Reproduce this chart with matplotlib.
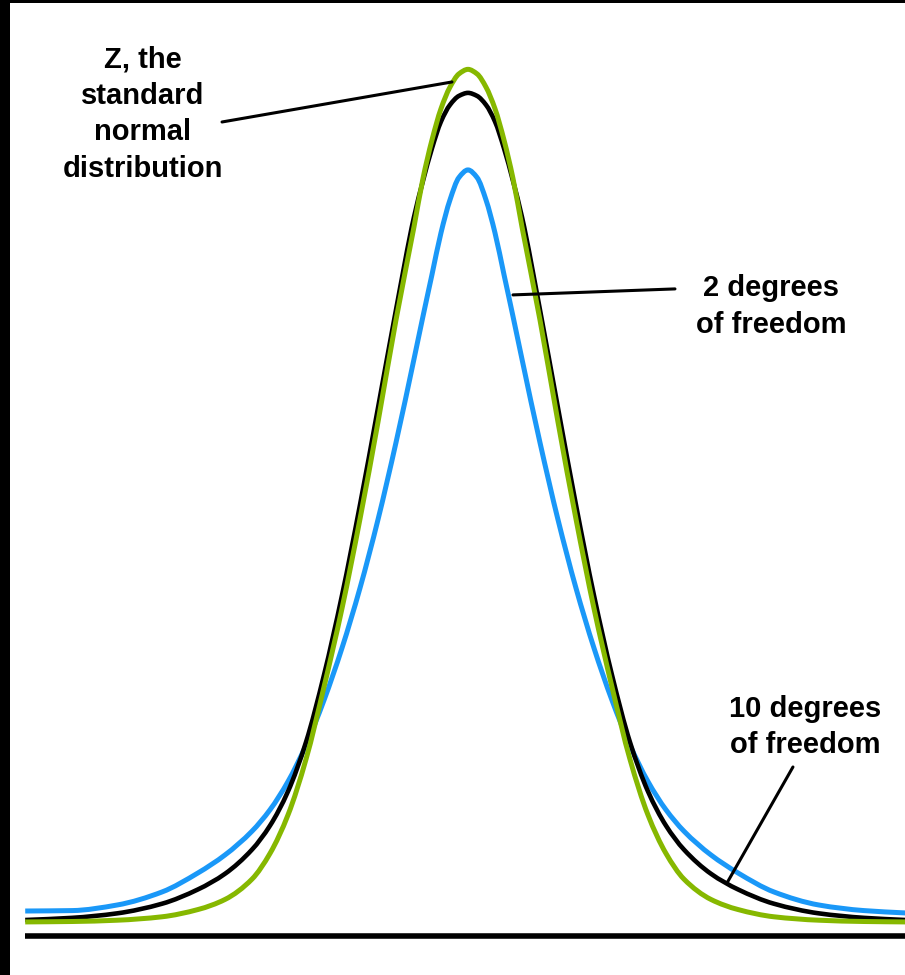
import matplotlib.pyplot as plt
from matplotlib.path import Path
from matplotlib.patches import PathPatch

# curves: x in standard units, y as density
z = [-4.92, -4.4, -3.9, -3.4, -3.0, -2.7, -2.4, -2.2, -2.0, -1.8, -1.6, -1.4,
     -1.2, -1.0, -0.8, -0.6, -0.5, -0.4, -0.3, -0.2, -0.1, 0.0, 0.1, 0.2, 0.3,
     0.4, 0.5, 0.6, 0.8, 1.0, 1.2, 1.4, 1.6, 1.8, 2.0, 2.2, 2.4, 2.7, 3.0, 3.4,
     3.9, 4.4, 4.86]

normal_pdf = [0.0000, 0.0002, 0.0008, 0.0024, 0.0058, 0.0105, 0.0200, 0.0320,
              0.0500, 0.0760, 0.1098, 0.1465, 0.1883, 0.2336, 0.2813, 0.3248,
              0.3474, 0.3654, 0.3800, 0.3901, 0.3963, 0.3984, 0.3963, 0.3901,
              0.3800, 0.3654, 0.3474, 0.3248, 0.2813, 0.2336, 0.1883, 0.1465,
              0.1098, 0.0760, 0.0500, 0.0320, 0.0200, 0.0105, 0.0058, 0.0024,
              0.0008, 0.0002, 0.0000]

t10_pdf = [0.0009, 0.0019, 0.0040, 0.0085, 0.0152, 0.0225, 0.0338, 0.0450,
           0.0610, 0.0840, 0.1154, 0.1526, 0.1949, 0.2402, 0.2860, 0.3294,
           0.3463, 0.3615, 0.3740, 0.3818, 0.3860, 0.3874, 0.3860, 0.3818,
           0.3740, 0.3615, 0.3463, 0.3294, 0.2860, 0.2402, 0.1949, 0.1526,
           0.1154, 0.0840, 0.0610, 0.0450, 0.0338, 0.0225, 0.0152, 0.0085,
           0.0040, 0.0019, 0.0009]

t2_pdf = [0.0051, 0.0053, 0.0079, 0.0140, 0.0229, 0.0313, 0.0424, 0.0524,
          0.0656, 0.0826, 0.1036, 0.1280, 0.1560, 0.1880, 0.2240, 0.2630,
          0.2830, 0.3025, 0.3220, 0.3374, 0.3479, 0.3514, 0.3479, 0.3374,
          0.3220, 0.3025, 0.2830, 0.2630, 0.2240, 0.1880, 0.1560, 0.1280,
          0.1036, 0.0826, 0.0656, 0.0524, 0.0424, 0.0313, 0.0229, 0.0140,
          0.0079, 0.0053, 0.0042]

labels = ["Z, the\nstandard\nnormal\ndistribution",
          "2 degrees\nof freedom",
          "10 degrees\nof freedom"]

green = '#86b800'
blue = '#1a98f8'


def smooth_path(xs, ys):
    # bezier path through the points (monotone cubic slopes), no extra data
    n = len(xs)
    h = [xs[i + 1] - xs[i] for i in range(n - 1)]
    d = [(ys[i + 1] - ys[i]) / h[i] for i in range(n - 1)]
    m = [d[0]] + [0.0] * (n - 2) + [d[-1]]
    for k in range(1, n - 1):
        if d[k - 1] * d[k] > 0:
            w1 = 2 * h[k] + h[k - 1]
            w2 = h[k] + 2 * h[k - 1]
            m[k] = (w1 + w2) / (w1 / d[k - 1] + w2 / d[k])
    verts = [(xs[0], ys[0])]
    codes = [Path.MOVETO]
    for i in range(n - 1):
        verts += [(xs[i] + h[i] / 3, ys[i] + m[i] * h[i] / 3),
                  (xs[i + 1] - h[i] / 3, ys[i + 1] - m[i + 1] * h[i] / 3),
                  (xs[i + 1], ys[i + 1])]
        codes += [Path.CURVE4] * 3
    return Path(verts, codes)


fig = plt.figure(figsize=(9.05, 9.75), dpi=100, facecolor='black')
ax = fig.add_axes([10 / 905, 0, 895 / 905, 972 / 975])
ax.set_facecolor('white')
ax.set_xlim(-5.089, 4.856)
ax.set_ylim(-0.0248, 0.4294)
for s in ax.spines.values():
    s.set_visible(False)
ax.set_xticks([])
ax.set_yticks([])

# base line under the curves
ax.axhline(-0.0065, xmin=15 / 895, xmax=1, color='black', lw=4, solid_capstyle='butt')

for ys, col, lw in [(t2_pdf, blue, 3.6), (t10_pdf, 'black', 3.3), (normal_pdf, green, 3.6)]:
    ax.add_patch(PathPatch(smooth_path(z, ys), fill=False, edgecolor=col, lw=lw,
                           capstyle='butt', joinstyle='round'))

font = dict(family=['Liberation Sans', 'DejaVu Sans'], weight='bold', size=21,
            ha='center', va='center', linespacing=1.38)
ax.text(-3.617, 0.3775, labels[0], **font)
ax.text(3.367, 0.2875, labels[1], **font)
ax.text(3.744, 0.0910, labels[2], **font)

lead = dict(arrowstyle='-', color='black', lw=2.2, shrinkA=0, shrinkB=0)
ax.annotate('', xy=(-0.178, 0.3925), xytext=(-2.733, 0.3738), arrowprops=lead)
ax.annotate('', xy=(0.5, 0.2930), xytext=(2.3, 0.2958), arrowprops=lead)
ax.annotate('', xy=(2.878, 0.0182), xytext=(3.611, 0.0724), arrowprops=lead)

fig.savefig('out.png', dpi=100, facecolor='black')
